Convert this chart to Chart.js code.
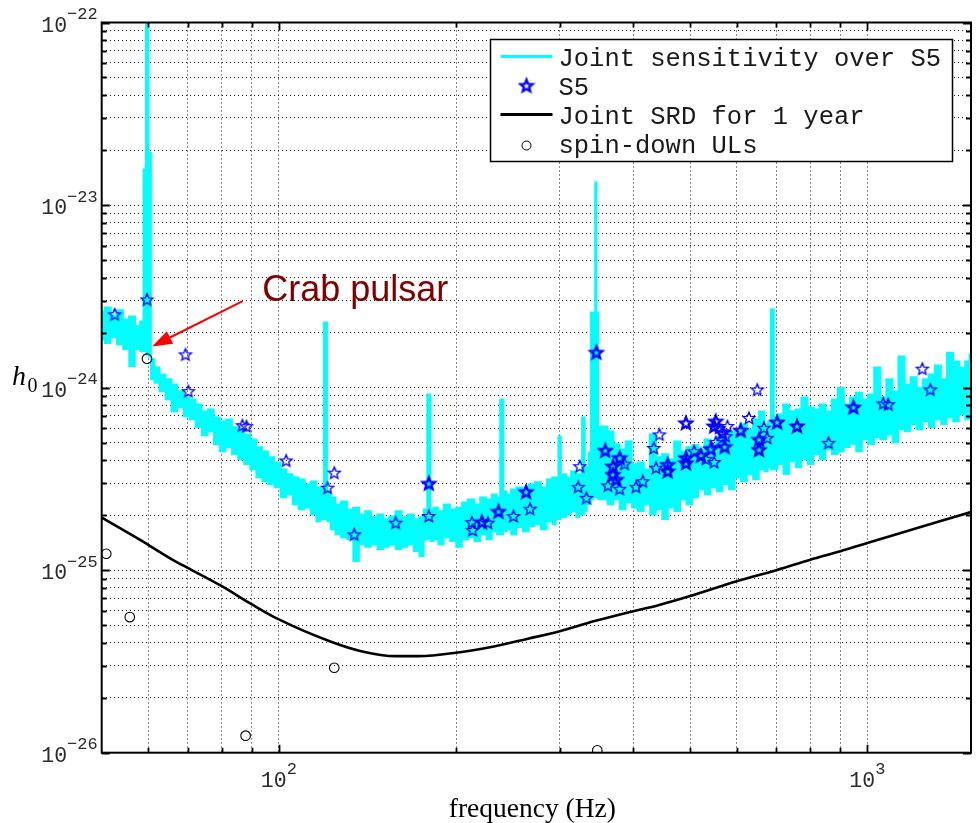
<!DOCTYPE html>
<html>
<head>
<meta charset="utf-8">
<title>Pulsar h0 upper limits</title>
<script src="https://cdn.jsdelivr.net/npm/chart.js@4.4.0/dist/chart.umd.min.js"></script>
<style>
  html, body { margin: 0; padding: 0; background: #fff; }
  canvas { display: block; }
</style>
</head>
<body>
<canvas id="chart" width="978" height="823"></canvas>
<script>
// All h0 amplitudes below are given in units of 1e-25.
const H_UNIT = 1e-25;

// Joint sensitivity over S5: frequency (Hz) with the upper and lower edge of the noisy trace
const sensFreq = [
  50.0, 51.2, 52.4, 53.7, 55.0, 56.3, 57.6, 58.6, 59.2, 59.7,
  60.3, 60.9, 61.9, 63.4, 64.9, 66.4, 68.0, 69.7, 71.3, 73.0,
  74.8, 76.6, 78.4, 80.3, 82.2, 84.2, 86.2, 88.3, 90.4, 92.6,
  94.8, 97.1, 99.4, 101.8, 104.2, 106.7, 109.3, 111.9, 114.6, 116.8,
  118.6, 120.0, 121.4, 123.4, 126.0, 129.0, 132.1, 135.3, 138.5, 141.8,
  145.2, 148.7, 152.3, 155.9, 159.7, 163.5, 167.4, 171.4, 175.0, 177.7,
  179.8, 181.9, 184.5, 188.5, 193.0, 197.6, 202.4, 207.2, 212.2, 217.3,
  222.5, 227.8, 232.6, 236.4, 239.2, 242.0, 245.5, 250.5, 256.5, 262.7,
  269.0, 275.4, 282.0, 288.8, 294.0, 297.2, 300.0, 302.8, 306.0, 310.1,
  317.5, 322.0, 325.9, 329.2, 332.5, 334.8, 337.5, 340.5, 344.0, 345.5,
  347.0, 350.0, 357.5, 366.0, 374.8, 383.8, 393.0, 402.5, 412.1, 422.0,
  432.1, 442.5, 453.1, 464.0, 475.2, 486.6, 498.2, 510.2, 522.4, 535.0,
  547.8, 560.9, 574.4, 588.2, 602.3, 616.7, 631.5, 646.7, 662.2, 674.0,
  681.5, 689.5, 697.5, 711.1, 728.1, 745.6, 763.5, 781.8, 800.6, 819.8,
  839.5, 859.6, 880.2, 901.4, 923.0, 945.2, 967.9, 991.1, 1014.9, 1039.3,
  1064.2, 1089.8, 1115.9, 1142.7, 1170.1, 1198.2, 1227.0, 1256.4, 1286.6, 1317.5,
  1349.1, 1381.5, 1414.6, 1448.6, 1483.4, 1500
];
const sensUpper = [
  26.1, 27.5, 24.8, 26.5, 23.6, 24.5, 21.7, 23.0, 156.7, 2000,
  194, 14.3, 12.9, 11.8, 11.1, 10.4, 9.52, 8.83, 8.61, 8.09,
  7.40, 7.59, 6.86, 6.52, 6.69, 6.06, 5.90, 5.54, 5.20, 4.71,
  4.47, 4.15, 3.89, 3.56, 3.35, 3.22, 3.14, 2.95, 3.06, 2.84,
  2.77, 22.7, 2.70, 2.50, 2.29, 2.38, 2.15, 2.20, 2.02, 2.10,
  1.95, 2.02, 1.90, 1.97, 2.10, 1.95, 2.02, 1.90, 1.95, 2.15,
  9.17, 2.15, 2.20, 2.10, 2.29, 2.15, 2.20, 2.35, 2.44, 2.29,
  2.50, 2.44, 2.60, 2.50, 8.61, 2.70, 2.60, 2.77, 2.84, 2.70,
  2.95, 3.03, 2.84, 3.14, 3.22, 3.22, 5.40, 3.31, 3.35, 3.22,
  3.47, 3.35, 3.35, 6.86, 3.56, 3.66, 4.41, 25.8, 25.8, 133,
  25.8, 6.13, 6.13, 5.75, 4.89, 4.58, 5.07, 3.80, 3.89, 3.56,
  5.54, 4.15, 4.31, 4.04, 5.07, 4.47, 4.71, 4.83, 4.58, 5.20,
  4.89, 5.33, 5.20, 5.75, 5.54, 6.29, 5.90, 6.69, 7.40, 6.29,
  6.52, 26.8, 6.86, 7.13, 8.09, 7.40, 7.59, 8.83, 7.79, 7.59,
  8.09, 7.40, 8.61, 9.96, 8.09, 8.83, 9.38, 8.61, 9.17, 12.9,
  8.83, 11.1, 9.52, 14.8, 10.4, 11.4, 9.96, 11.1, 11.8, 13.2,
  11.1, 15.5, 13.9, 12.9, 13.9, 15.2
];
const sensLower = [
  18.3, 17.5, 18.8, 17.2, 16.2, 13.1, 16.2, 15.8, 15.8, 15.2,
  14.8, 11.1, 10.6, 9.52, 8.61, 7.40, 7.79, 6.95, 6.69, 6.06,
  5.47, 5.75, 4.89, 4.47, 4.71, 4.31, 4.04, 3.80, 3.56, 3.22,
  3.06, 2.95, 2.84, 2.50, 2.60, 2.29, 2.15, 2.20, 2.02, 1.85,
  1.90, 1.90, 1.85, 1.67, 1.57, 1.51, 1.47, 1.12, 1.38, 1.34,
  1.38, 1.30, 1.34, 1.38, 1.30, 1.34, 1.38, 1.27, 1.19, 1.47,
  1.47, 1.44, 1.47, 1.38, 1.51, 1.44, 1.34, 1.47, 1.51, 1.44,
  1.57, 1.47, 1.63, 1.57, 1.57, 1.63, 1.67, 1.57, 1.72, 1.63,
  1.74, 1.78, 1.67, 1.85, 1.78, 1.90, 1.90, 1.95, 1.95, 2.02,
  2.10, 1.95, 2.02, 2.02, 2.10, 2.29, 2.29, 2.44, 2.50, 2.50,
  2.50, 2.44, 2.44, 2.29, 2.44, 2.15, 2.35, 2.20, 2.10, 2.29,
  2.02, 2.15, 1.90, 2.20, 2.10, 2.44, 2.29, 2.50, 2.77, 2.60,
  2.84, 2.70, 2.95, 2.77, 3.22, 3.06, 3.35, 3.14, 3.56, 3.47,
  3.66, 3.56, 3.56, 3.80, 3.35, 3.94, 3.66, 4.04, 3.80, 4.31,
  4.04, 4.58, 4.31, 4.47, 4.71, 4.89, 4.47, 5.20, 4.89, 5.33,
  5.20, 5.54, 5.01, 5.90, 5.75, 6.29, 5.90, 6.52, 6.06, 6.69,
  6.29, 6.86, 6.52, 7.13, 6.69, 6.86
];

// S5 upper limits for individual pulsars
const s5Freq = [
  52.6, 59.7, 69.4, 70.2, 86.7, 88.1, 102.9, 121.0, 124.2, 134.3,
  157.9, 179.8, 212.8, 213.4, 226.5, 250.4, 267.2, 322.5, 324.6, 333.1,
  362.4, 379.3, 386.7, 404.6, 415.3, 433.5, 437.4, 443.2, 507.9, 531.4,
  549.1, 552.5, 559.8, 574.4, 578.3, 629.3, 650.0, 667.1, 675.7, 859.0,
  1064, 1085, 1240, 1279
];
const s5H0 = [
  25.2, 30.4, 15.2, 9.56, 6.22, 6.15, 3.99, 2.83, 3.42, 1.57,
  1.82, 1.98, 1.83, 1.66, 1.82, 1.98, 2.17, 2.86, 3.71, 2.49,
  2.91, 2.79, 3.83, 2.86, 3.07, 4.67, 3.64, 5.54, 4.48, 4.07,
  3.91, 5.03, 6.03, 5.42, 6.16, 6.83, 9.76, 6.03, 5.31, 4.98,
  8.19, 8.1, 12.7, 9.77
];
// S5 upper limits drawn with a heavier marker
const s5BoldFreq = [
  179.8, 221.3, 236.1, 263.0, 346.3, 358.6, 369.5, 369.5, 374.3, 379.3,
  457.7, 457.7, 491.6, 491.6, 491.6, 521.2, 541.9, 549.1, 552.5, 567.1,
  572.2, 609.1, 654.3, 654.3, 702.5, 759.3, 946.9
];
const s5BoldH0 = [
  2.99, 1.84, 2.10, 2.69, 15.6, 4.53, 3.71, 3.34, 3.14, 4.13,
  3.79, 3.49, 6.41, 4.13, 3.87, 4.25, 4.63, 6.16, 6.55, 5.66,
  4.75, 5.84, 5.20, 4.58, 6.47, 6.16, 7.82
];

// Joint science requirement sensitivity for one year
const srdFreq = [50, 58, 66, 70, 80, 90, 100, 122, 138, 158, 173, 200, 233, 265, 300, 344, 400, 440, 500, 600, 700, 800, 900, 1000, 1500];
const srdH0 = [1.94, 1.47, 1.14, 1.03, 0.817, 0.649, 0.537, 0.408, 0.36, 0.338, 0.338, 0.353, 0.383, 0.421, 0.463, 0.526, 0.596, 0.641, 0.721, 0.87, 1.0, 1.14, 1.27, 1.41, 2.08];

// Spin-down upper limits
const ulFreq = [50.9, 55.8, 59.7, 87.8, 124.2, 347.6];
const ulH0 = [1.23, 0.553, 14.4, 0.124, 0.292, 0.103];

// Axis ticks
const xGridTicks = [60, 70, 80, 90, 100, 200, 300, 400, 500, 600, 700, 800, 900, 1000];
const xLabelExponents = [2, 3];
const yLabelExponents = [-26, -25, -24, -23, -22];
const yMinorMantissas = [2, 3, 4, 5, 6, 7, 8, 9];

const yGridTicks = [];
yLabelExponents.forEach((e, i) => {
  yGridTicks.push(parseFloat('1e' + e));
  if (i < yLabelExponents.length - 1) {
    yMinorMantissas.forEach(m => yGridTicks.push(parseFloat(m + 'e' + e)));
  }
});

const toPoints = (xs, ys) => xs.map((x, i) => ({ x: x, y: ys[i] * H_UNIT }));

// Outlined five-pointed star marker
function starMarker(lineWidth) {
  const size = 18;
  const c = document.createElement('canvas');
  c.width = size; c.height = size;
  const g = c.getContext('2d');
  const R = 6.3, r = R * 0.44;
  g.beginPath();
  for (let i = 0; i < 10; i++) {
    const a = -Math.PI / 2 + i * Math.PI / 5;
    const rad = i % 2 ? r : R;
    const px = size / 2 + rad * Math.cos(a);
    const py = size / 2 + 0.6 + rad * Math.sin(a);
    if (i === 0) g.moveTo(px, py); else g.lineTo(px, py);
  }
  g.closePath();
  g.strokeStyle = '#0000ff';
  g.lineWidth = lineWidth;
  g.lineJoin = 'miter';
  g.stroke();
  return c;
}
const starThin = starMarker(1.3);
const starBold = starMarker(2.4);

const CYAN = '#00ffff';
const MONO = '"Liberation Mono", "DejaVu Sans Mono", monospace';
const SERIF = '"Liberation Serif", "DejaVu Serif", serif';
const SANS = '"Liberation Sans", Arial, sans-serif';

// Annotation pointing at the Crab pulsar
const crabNote = { text: 'Crab pulsar', textAt: [93.7, 2.98e-24], tail: [86.8, 2.98e-24], tip: [60.9, 1.68e-24] };

const axesDecor = {
  id: 'axesDecor',
  afterDatasetsDraw(chart) {
    const { ctx, chartArea: a, scales: { x, y } } = chart;
    ctx.save();

    // Crab pulsar arrow and label
    const tx = x.getPixelForValue(crabNote.tail[0]), ty = y.getPixelForValue(crabNote.tail[1]);
    const hx = x.getPixelForValue(crabNote.tip[0]), hy = y.getPixelForValue(crabNote.tip[1]);
    const ang = Math.atan2(hy - ty, hx - tx);
    const headLen = 20, headHalf = 7;
    const bx = hx - headLen * Math.cos(ang), by = hy - headLen * Math.sin(ang);
    ctx.strokeStyle = '#ff0000';
    ctx.fillStyle = '#ff0000';
    ctx.lineWidth = 2;
    ctx.beginPath(); ctx.moveTo(tx, ty); ctx.lineTo(bx, by); ctx.stroke();
    ctx.beginPath();
    ctx.moveTo(hx, hy);
    ctx.lineTo(bx + headHalf * Math.sin(ang), by - headHalf * Math.cos(ang));
    ctx.lineTo(bx - headHalf * Math.sin(ang), by + headHalf * Math.cos(ang));
    ctx.closePath(); ctx.fill();
    ctx.fillStyle = '#800000';
    ctx.font = '36px ' + SANS;
    ctx.textAlign = 'left'; ctx.textBaseline = 'alphabetic';
    ctx.fillText(crabNote.text, x.getPixelForValue(crabNote.textAt[0]), y.getPixelForValue(crabNote.textAt[1]));

    // Frame
    ctx.strokeStyle = '#000';
    ctx.lineWidth = 2;
    ctx.strokeRect(a.left, a.top, a.right - a.left, a.bottom - a.top);

    // Inward tick marks on all four sides
    ctx.lineWidth = 1.8;
    const xMajor = xLabelExponents.map(e => Math.pow(10, e));
    xGridTicks.forEach(v => {
      const px = Math.round(x.getPixelForValue(v)) + 0.5;
      const len = xMajor.includes(v) ? 8 : 5;
      ctx.beginPath();
      ctx.moveTo(px, a.bottom); ctx.lineTo(px, a.bottom - len);
      ctx.moveTo(px, a.top); ctx.lineTo(px, a.top + len);
      ctx.stroke();
    });
    yGridTicks.forEach(v => {
      const py = Math.round(y.getPixelForValue(v)) + 0.5;
      const major = Math.abs(Math.log10(v) - Math.round(Math.log10(v))) < 1e-6;
      const len = major ? 8 : 5;
      ctx.beginPath();
      ctx.moveTo(a.left, py); ctx.lineTo(a.left + len, py);
      ctx.moveTo(a.right, py); ctx.lineTo(a.right - len, py);
      ctx.stroke();
    });

    // Tick labels as powers of ten
    ctx.fillStyle = '#2a2a2a';
    ctx.textAlign = 'left'; ctx.textBaseline = 'alphabetic';
    const baseFont = '21.5px ' + MONO, expFont = '17px ' + MONO;
    yLabelExponents.forEach(e => {
      const py = y.getPixelForValue(parseFloat('1e' + e));
      const expText = '\u2212' + Math.abs(e);
      ctx.font = expFont; const we = ctx.measureText(expText).width;
      ctx.font = baseFont; const wb = ctx.measureText('10').width;
      const right = a.left - 4;
      ctx.fillText('10', right - we - wb, py + 9);
      ctx.font = expFont; ctx.fillText(expText, right - we, py - 3.5);
    });
    xLabelExponents.forEach(e => {
      const px = x.getPixelForValue(Math.pow(10, e));
      const expText = String(e);
      ctx.font = expFont; const we = ctx.measureText(expText).width;
      ctx.font = baseFont; const wb = ctx.measureText('10').width;
      const left = px - (wb + we) / 2;
      ctx.fillText('10', left, a.bottom + 34.5);
      ctx.font = expFont; ctx.fillText(expText, left + wb, a.bottom + 21);
    });

    // Axis titles
    ctx.fillStyle = '#000';
    ctx.font = '27.5px ' + SERIF;
    ctx.textAlign = 'center';
    ctx.fillText('frequency (Hz)', (a.left + a.right) / 2 - 4, a.bottom + 64);
    const cy = (a.top + a.bottom) / 2;
    ctx.textAlign = 'left';
    ctx.font = 'italic 28px ' + SERIF;
    ctx.fillText('h', 12, cy - 2.5);
    ctx.font = '20px ' + SERIF;
    ctx.fillText('0', 27.5, cy + 4.5);

    // Legend box
    const boxW = 462, boxH = 122;
    const bxL = a.right - 18.5 - boxW, bxT = a.top + 17;
    ctx.fillStyle = '#fff';
    ctx.fillRect(bxL, bxT, boxW, boxH);
    ctx.strokeStyle = '#000'; ctx.lineWidth = 1.5;
    ctx.strokeRect(bxL, bxT, boxW, boxH);
    const ds = chart.data.datasets;
    const entries = [
      { ds: ds[5], kind: 'line' },
      { ds: ds[0], kind: 'star' },
      { ds: ds[3], kind: 'line' },
      { ds: ds[2], kind: 'circle' }
    ];
    ctx.font = '25.5px ' + MONO;
    entries.forEach((en, i) => {
      const base = bxT + 26 + i * 29;
      const my = base - 9;
      if (en.kind === 'line') {
        ctx.strokeStyle = en.ds.borderColor; ctx.lineWidth = 3;
        ctx.beginPath(); ctx.moveTo(bxL + 10, my); ctx.lineTo(bxL + 62, my); ctx.stroke();
      } else if (en.kind === 'star') {
        ctx.drawImage(starBold, bxL + 36 - 9, my - 9);
      } else {
        ctx.strokeStyle = '#000'; ctx.lineWidth = 1;
        ctx.beginPath(); ctx.arc(bxL + 36, my + 2, 4.5, 0, Math.PI * 2); ctx.stroke();
      }
      ctx.fillStyle = '#1a1a1a';
      ctx.textAlign = 'left';
      ctx.fillText(en.ds.label, bxL + 68, base);
    });
    ctx.restore();
  }
};

new Chart(document.getElementById('chart'), {
  type: 'line',
  data: {
    datasets: [
      { label: 'S5', data: toPoints(s5BoldFreq, s5BoldH0), showLine: false, pointStyle: starBold, pointRadius: 6, order: 0 },
      { label: 'S5', data: toPoints(s5Freq, s5H0), showLine: false, pointStyle: starThin, pointRadius: 6, order: 1 },
      { label: 'spin-down ULs', data: toPoints(ulFreq, ulH0), showLine: false, pointStyle: 'circle', pointRadius: 4.8,
        borderColor: '#000', borderWidth: 1.1, backgroundColor: 'rgba(0,0,0,0)', order: 2 },
      { label: 'Joint SRD for 1 year', data: toPoints(srdFreq, srdH0), borderColor: '#000', borderWidth: 2.6,
        pointRadius: 0, cubicInterpolationMode: 'monotone', fill: false, order: 3 },
      { label: 'Joint sensitivity over S5 (lower edge)', data: toPoints(sensFreq, sensLower), borderColor: CYAN,
        borderWidth: 1.5, pointRadius: 0, stepped: 'middle', fill: false, order: 4 },
      { label: 'Joint sensitivity over S5', data: toPoints(sensFreq, sensUpper), borderColor: CYAN, backgroundColor: CYAN,
        borderWidth: 2, pointRadius: 0, stepped: 'middle', fill: '-1', order: 5 }
    ]
  },
  options: {
    responsive: false,
    animation: false,
    devicePixelRatio: 1,
    layout: { padding: { left: 101.7, top: 22.5, right: 3, bottom: 70.3 } },
    plugins: { legend: { display: false }, tooltip: { enabled: false } },
    scales: {
      x: {
        type: 'logarithmic', min: 50, max: 1500,
        afterBuildTicks: s => { s.ticks = xGridTicks.map(v => ({ value: v })); },
        ticks: { display: false },
        grid: { color: 'rgba(0,0,0,0.9)', lineWidth: 1, drawTicks: false },
        border: { display: false, dash: [1, 3] }
      },
      y: {
        type: 'logarithmic', min: 1e-26, max: 1e-22,
        afterBuildTicks: s => { s.ticks = yGridTicks.map(v => ({ value: v })); },
        ticks: { display: false },
        grid: { color: 'rgba(0,0,0,0.9)', lineWidth: 1, drawTicks: false },
        border: { display: false, dash: [1, 3] }
      }
    }
  },
  plugins: [axesDecor]
});
</script>
</body>
</html>
